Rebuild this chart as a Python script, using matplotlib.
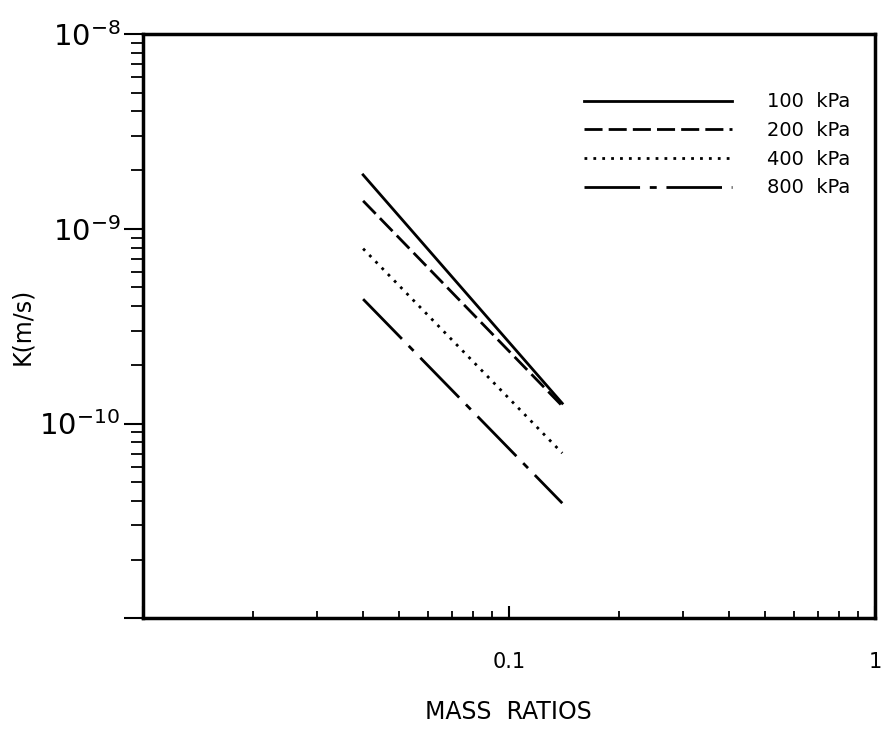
import numpy as np
import matplotlib
matplotlib.use("Agg")
import matplotlib.pyplot as plt
from matplotlib.ticker import FixedLocator, LogLocator, NullFormatter, FixedFormatter

# mass ratio at the two ends of each fitted line
mass_ratio = [0.04, 0.14]

# permeability K (m/s) at those ends, one line per consolidation pressure
k_100 = [1.89e-9, 1.27e-10]
k_200 = [1.39e-9, 1.23e-10]
k_400 = [7.9e-10, 7.05e-11]
k_800 = [4.35e-10, 3.9e-11]

labels = ["100  kPa", "200  kPa", "400  kPa", "800  kPa"]

plt.rcParams['font.family'] = 'DejaVu Sans'

fig = plt.figure(figsize=(8.81, 7.37), dpi=100)
ax = fig.add_axes([0.162, 0.161, 0.831, 0.793])

lw = 2.0
ax.plot(mass_ratio, k_100, color='black', lw=lw, ls='-', label=labels[0])
ax.plot(mass_ratio, k_200, color='black', lw=lw, ls=(0, (6.5, 2.2)), label=labels[1])
ax.plot(mass_ratio, k_400, color='black', lw=lw, ls=(0, (1, 2.2)), label=labels[2])
ax.plot(mass_ratio, k_800, color='black', lw=lw, ls=(0, (20, 3.5, 2.5, 3.5)), label=labels[3])

ax.set_xscale('log')
ax.set_yscale('log')
ax.set_xlim(0.01, 1)
ax.set_ylim(1e-11, 1e-8)

# y axis: ticks pointing out, only three decades labelled
ax.yaxis.set_major_locator(FixedLocator([1e-11, 1e-10, 1e-9, 1e-8]))
ax.yaxis.set_major_formatter(FixedFormatter(["", r"$10^{-10}$", r"$10^{-9}$", r"$10^{-8}$"]))
ax.yaxis.set_minor_locator(LogLocator(base=10, subs=np.arange(2, 10)))
ax.yaxis.set_minor_formatter(NullFormatter())
ax.tick_params(axis='y', which='major', direction='out', length=14, width=1.5,
               labelsize=21, pad=2)
ax.tick_params(axis='y', which='minor', direction='out', length=9, width=1.3)

# x axis: ticks pointing in
ax.xaxis.set_major_locator(FixedLocator([0.01, 0.1, 1]))
ax.xaxis.set_major_formatter(FixedFormatter(["", "0.1", "1"]))
ax.xaxis.set_minor_locator(LogLocator(base=10, subs=np.arange(2, 10)))
ax.xaxis.set_minor_formatter(NullFormatter())
ax.tick_params(axis='x', which='major', direction='in', length=9, width=1.5,
               labelsize=15, pad=24)
ax.tick_params(axis='x', which='minor', direction='in', length=5, width=1.3)

for side in ax.spines.values():
    side.set_linewidth(2.5)

ax.set_ylabel("K(m/s)", fontsize=17)
ax.yaxis.set_label_coords(-0.148, 0.5)
ax.set_xlabel("MASS  RATIOS", fontsize=17)
ax.xaxis.set_label_coords(0.5, -0.14)

ax.legend(loc='upper right', bbox_to_anchor=(0.99, 0.93), frameon=False,
          fontsize=14, handlelength=7.6, handletextpad=1.8, labelspacing=0.5)

fig.savefig("out.png", dpi=100)
